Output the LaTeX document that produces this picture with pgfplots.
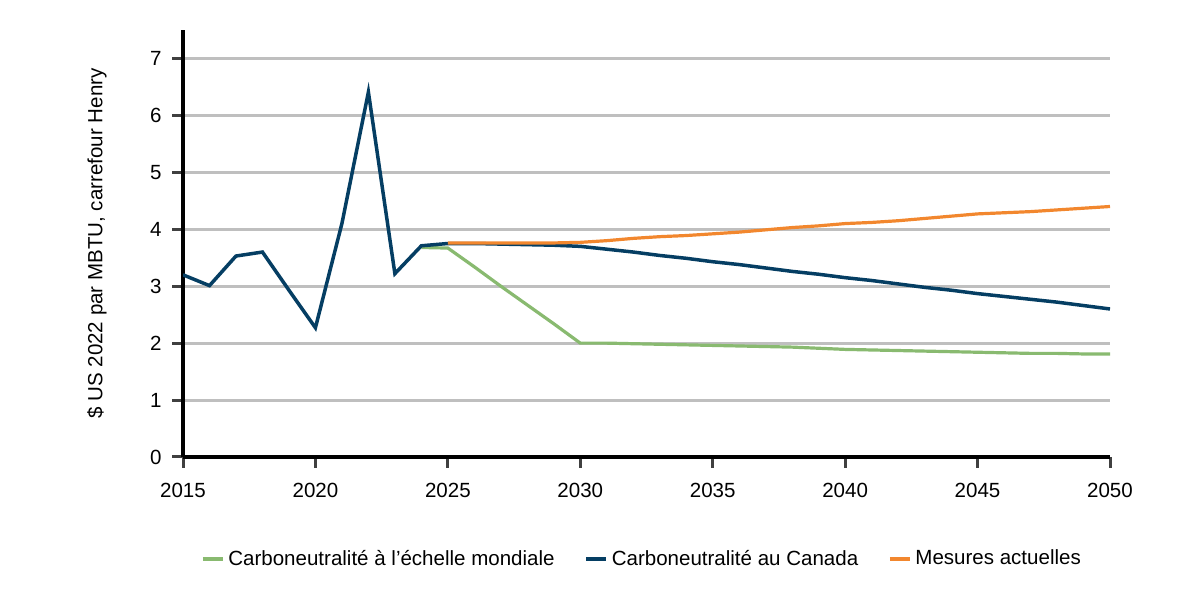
\documentclass[border=0pt]{standalone}
\usepackage{fontspec}
\setmainfont{Liberation Sans}
\usepackage{pgfplots}
\pgfplotsset{compat=1.18}

\definecolor{navyline}{RGB}{5,62,99}
\definecolor{greenline}{RGB}{137,186,112}
\definecolor{orangeline}{RGB}{242,135,46}
\definecolor{gridgray}{RGB}{191,191,191}
\definecolor{tickgray}{RGB}{64,64,64}

\begin{document}
\fontsize{10.3}{12}\selectfont
\begin{tikzpicture}
\path[use as bounding box] (0,0) rectangle (600bp,300bp);
\begin{axis}[
scale only axis,
width=463.5bp, height=213.5bp,
at={(91.5bp,71.5bp)}, anchor=south west,
xmin=2015, xmax=2050,
ymin=0, ymax=7.5,
xtick={2015,2020,...,2050},
ytick={0,1,...,7},
axis x line*=bottom,
axis y line*=left,
axis line style={black, line width=2bp, -},
tick align=outside,
tick pos=left,
major tick length=5.5bp,
tick style={tickgray, line width=1.5bp},
ymajorgrids,
y grid style={gridgray, line width=1.5bp},
/pgf/number format/assume math mode=true,
ticklabel style={font=\fontsize{10.3}{12}\selectfont},
xticklabel style={/pgf/number format/1000 sep={}, anchor=north, inner sep=0pt, yshift=-7.5bp},
yticklabel style={anchor=east, inner sep=0pt, xshift=-5bp},
every axis y label/.style={at={(axis description cs:-0.0928,0.5)}, rotate=90, anchor=center, font=\fontsize{10.3}{12}\selectfont},
ylabel={\$ US 2022 par MBTU, carrefour Henry},
legend columns=3,
legend style={draw=none, fill=none, at={(axis description cs:0.5,0)}, yshift=-51bp, xshift=-1.75bp, anchor=center,
  /tikz/every even column/.append style={column sep=13bp}, font=\fontsize{10.3}{12}\selectfont},
legend cell align=left,
legend image code/.code={\draw[#1, line width=1.6bp] (0bp,0bp) -- (10bp,0bp);},
]
\addplot[greenline, line width=1.6bp] table {
2024 3.68
2025 3.67
2026 3.34
2027 3.00
2028 2.67
2029 2.34
2030 2.00
2031 2.00
2032 1.99
2033 1.98
2034 1.97
2035 1.96
2036 1.95
2037 1.94
2038 1.93
2039 1.91
2040 1.89
2041 1.88
2042 1.87
2043 1.86
2044 1.85
2045 1.84
2046 1.83
2047 1.82
2048 1.82
2049 1.81
2050 1.81
};
\addlegendentry{Carboneutralité à l’échelle mondiale}
\addplot[navyline, line width=1.75bp] table {
2015 3.20
2016 3.01
2017 3.53
2018 3.60
2019 2.93
2020 2.27
2021 4.10
2022 6.41
2023 3.22
2024 3.71
2025 3.75
2026 3.75
2027 3.74
2028 3.73
2029 3.72
2030 3.70
2031 3.65
2032 3.60
2033 3.54
2034 3.49
2035 3.43
2036 3.38
2037 3.32
2038 3.26
2039 3.21
2040 3.15
2041 3.10
2042 3.04
2043 2.98
2044 2.93
2045 2.87
2046 2.82
2047 2.77
2048 2.72
2049 2.66
2050 2.60
};
\addlegendentry{Carboneutralité au Canada}
\addplot[orangeline, line width=1.6bp] table {
2025 3.76
2026 3.76
2027 3.76
2028 3.76
2029 3.76
2030 3.77
2031 3.80
2032 3.84
2033 3.87
2034 3.89
2035 3.92
2036 3.95
2037 3.99
2038 4.03
2039 4.06
2040 4.10
2041 4.12
2042 4.15
2043 4.19
2044 4.23
2045 4.27
2046 4.29
2047 4.31
2048 4.34
2049 4.37
2050 4.40
};
\addlegendentry{Mesures actuelles}
\end{axis}
\end{tikzpicture}
\end{document}
